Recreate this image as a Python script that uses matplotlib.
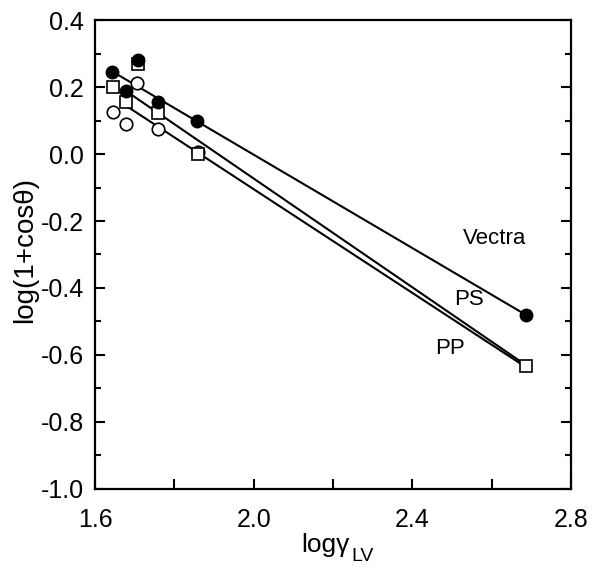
"""
    Recria o gráfico log(1+cos(theta)) x log(gamma_LV)
"""

import matplotlib
matplotlib.use("Agg")
from matplotlib import pyplot as plt
from matplotlib.ticker import MultipleLocator

plt.rcParams["font.family"] = ["Liberation Sans", "DejaVu Sans"]

# dados
# Vectra (círculos cheios)
vectra_x = [1.644, 1.677, 1.709, 1.760, 1.858, 2.686]
vectra_y = [0.246, 0.189, 0.281, 0.156, 0.099, -0.480]
# PS (quadrados abertos)
ps_x = [1.646, 1.677, 1.709, 1.760, 1.859, 2.686]
ps_y = [0.201, 0.156, 0.270, 0.123, -0.001, -0.633]
# PP (círculos abertos)
pp_x = [1.646, 1.677, 1.705, 1.760, 1.859]
pp_y = [0.126, 0.090, 0.211, 0.074, 0.005]

# retas ajustadas (extremos)
vectra_fit_x = [1.644, 2.686]
vectra_fit_y = [0.246, -0.480]
ps_fit_x = [1.677, 2.686]
ps_fit_y = [0.189, -0.630]
pp_fit_x = [1.677, 2.686]
pp_fit_y = [0.145, -0.636]

# rótulos das séries
rotulos = ["Vectra", "PS", "PP"]
rotulos_x = [2.608, 2.542, 2.494]
rotulos_y = [-0.251, -0.433, -0.582]

fig = plt.figure(figsize=(5.92, 5.67), dpi=100)
ax = fig.add_axes([0.1605, 0.1376, 0.804, 0.8271])

ax.plot(vectra_fit_x, vectra_fit_y, color="black", lw=1.5, zorder=1)
ax.plot(ps_fit_x, ps_fit_y, color="black", lw=1.5, zorder=1)
ax.plot(pp_fit_x, pp_fit_y, color="black", lw=1.5, zorder=1)

ax.plot(pp_x, pp_y, "o", ms=9, mfc="white", mec="black", mew=1.2, zorder=2)
ax.plot(ps_x, ps_y, "s", ms=9, mfc="white", mec="black", mew=1.2, zorder=3)
ax.plot(vectra_x, vectra_y, "o", ms=9, mfc="black", mec="black", zorder=4)

for r, x, y in zip(rotulos, rotulos_x, rotulos_y):
    ax.text(x, y, r, fontsize=16, ha="center", va="center")

# eixos
ax.set_xlim(1.6, 2.8)
ax.set_ylim(-1.0, 0.4)
ax.xaxis.set_major_locator(MultipleLocator(0.4))
ax.xaxis.set_minor_locator(MultipleLocator(0.2))
ax.yaxis.set_major_locator(MultipleLocator(0.2))
ax.yaxis.set_minor_locator(MultipleLocator(0.1))
ax.xaxis.set_major_formatter(lambda v, p: f"{v:.1f}")
ax.yaxis.set_major_formatter(lambda v, p: f"{v:.1f}")

ax.tick_params(which="both", direction="in", top=False, right=True, width=1.5,
               labelsize=18)
ax.tick_params(axis="x", which="both", length=7, pad=14)
ax.tick_params(axis="y", which="major", length=7, pad=8)
ax.tick_params(axis="y", which="minor", length=4.5)
for s in ax.spines.values():
    s.set_linewidth(1.6)

# título dos eixos (subscrito colocado à parte, como no original)
ax.set_xlabel("logγ", fontsize=19)
ax.xaxis.set_label_coords(0.484, -0.094)
ax.text(0.538, -0.154, "LV", fontsize=14, ha="left", va="baseline",
        transform=ax.transAxes)
ax.set_ylabel("log(1+cosθ)", fontsize=20)
ax.yaxis.set_label_coords(-0.12, 0.51)

plt.savefig("out.png", dpi=100)
